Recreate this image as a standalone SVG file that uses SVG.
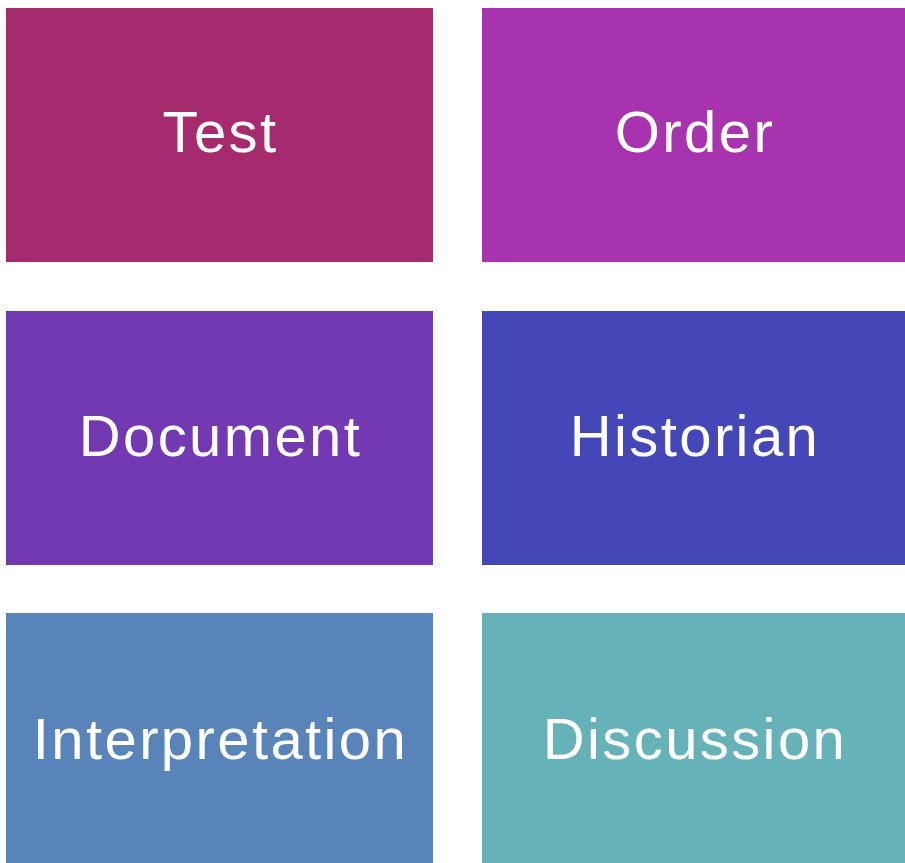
<svg xmlns="http://www.w3.org/2000/svg" width="905" height="863" viewBox="0 0 905 863">
  <style>
    .box { stroke: none; }
    .label { font-family: "Liberation Sans", Arial, sans-serif; font-size: 58px; fill: #ffffff; text-anchor: middle; letter-spacing: 2.4px; }
  </style>
  <rect width="905" height="863" fill="#ffffff"/>
  <g id="test">
    <rect class="box" x="6" y="8" width="427" height="254" fill="#A62A6E"/>
    <text class="label" x="220.5" y="152">Test</text>
  </g>
  <g id="order">
    <rect class="box" x="482" y="8" width="423" height="254" fill="#A833AE"/>
    <text class="label" x="695" y="152">Order</text>
  </g>
  <g id="document">
    <rect class="box" x="6" y="311" width="427" height="254" fill="#7339B3"/>
    <text class="label" x="220.5" y="456">Document</text>
  </g>
  <g id="historian">
    <rect class="box" x="482" y="311" width="423" height="254" fill="#4547B9"/>
    <text class="label" x="695" y="456">Historian</text>
  </g>
  <g id="interpretation">
    <rect class="box" x="6" y="613" width="427" height="250" fill="#5884BA"/>
    <text class="label" x="220.5" y="759">Interpretation</text>
  </g>
  <g id="discussion">
    <rect class="box" x="482" y="613" width="423" height="250" fill="#66B2B9"/>
    <text class="label" x="695" y="759">Discussion</text>
  </g>
  <g id="connectors"></g>
</svg>
